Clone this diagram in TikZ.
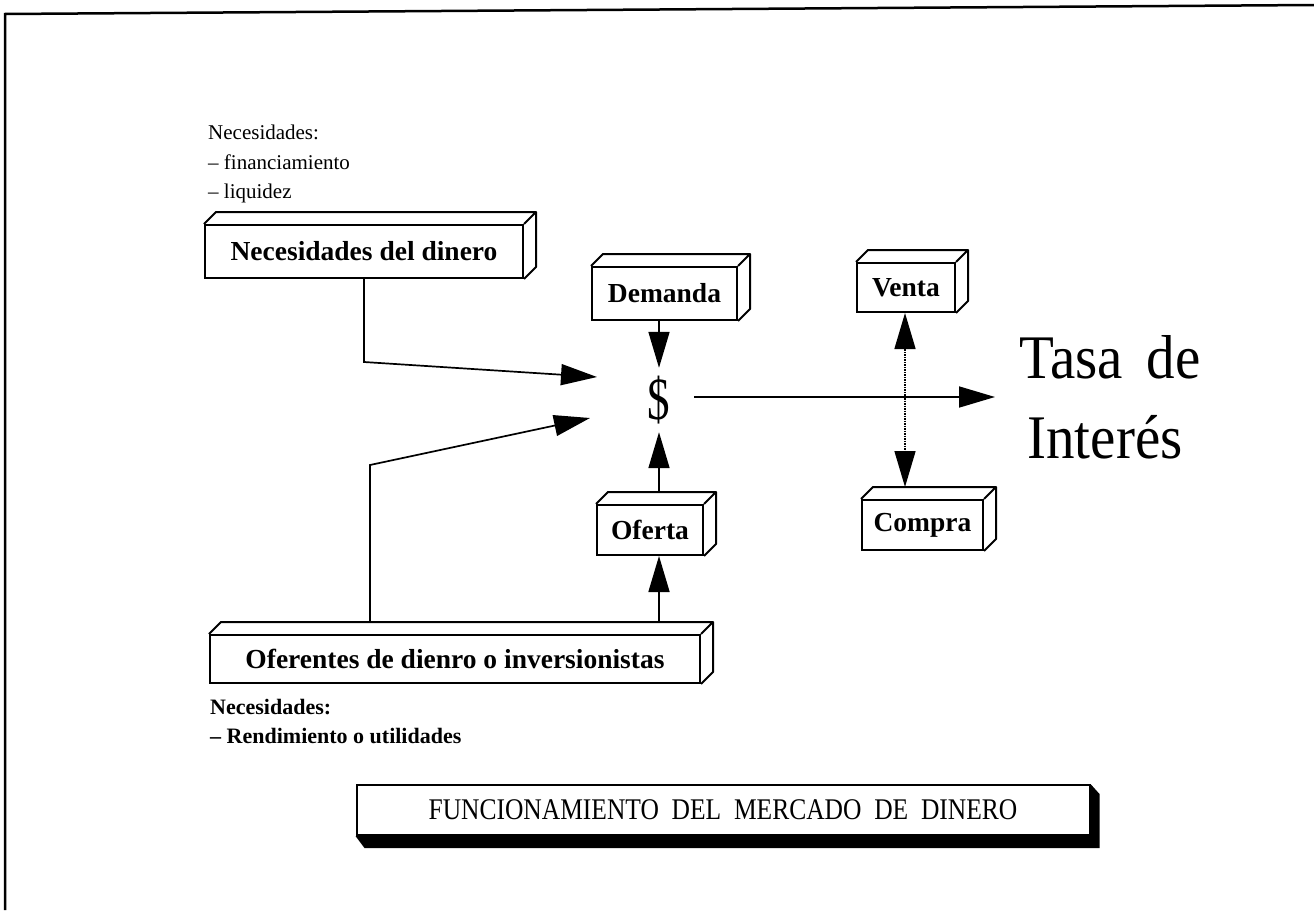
\documentclass[tikz,border=0pt]{standalone}
\usepackage{fontspec}
\setmainfont{Liberation Serif}
\usetikzlibrary{arrows.meta,calc}
\tikzset{
  x=1pt, y=-1pt,
  lbl/.style={draw, line width=2pt, fill=white, font=\fontsize{27.5}{30}\selectfont\bfseries, inner sep=0pt},
  conn/.style={line width=1.7pt},
  bigarrow/.style={conn, -{Triangle[length=36pt,width=21pt]}},
  dotarrow/.style={line width=1.5pt, densely dotted, -{Triangle[length=36pt,width=21pt]}},
  note/.style={anchor=west, font=\fontsize{21}{24}\selectfont, inner sep=0pt},
  bnote/.style={note, font=\fontsize{22}{24}\selectfont\bfseries},
}
\newcommand\threed[2][12]{%
  \draw[line width=2pt, line join=round] (#2.north west) -- ++(#1,-#1) -- ($(#2.north east)+(#1,-#1)$) -- ($(#2.south east)+(#1,-#1)$) -- (#2.south east)
    (#2.north east) -- ++(#1,-#1);}
\begin{document}
\begin{tikzpicture}
\useasboundingbox (0,0) rectangle (1314,910);
% frame
\draw[line width=2.5pt] (1314,5) -- (5,14) -- (5,910);
% upper notes
\node[note] (n1) at (208,132) {Necesidades:};
\node[note] (n2) at (208,162) {-- financiamiento};
\node[note] (n3) at (208,193) {-- liquidez};
% boxes
\node[lbl, minimum width=318pt, minimum height=53pt] (nec) at (364,251.5) {Necesidades del dinero};
\threed{nec}
\node[lbl, minimum width=145pt, minimum height=53pt] (dem) at (664.5,293.5) {Demanda};
\threed{dem}
\node[lbl, minimum width=106pt, minimum height=50pt] (ofr) at (650,530) {Oferta};
\threed{ofr}
\node[lbl, minimum width=490pt, minimum height=48pt] (ofe) at (455,659) {Oferentes de dienro o inversionistas};
\threed{ofe}
\node[lbl, minimum width=98pt, minimum height=49pt] (ven) at (906,287.5) {Venta};
\threed{ven}
\node[lbl, minimum width=121pt, minimum height=50pt] (com) at (922.5,525) {Compra};
\threed{com}
% dollar
\node[inner sep=0pt, minimum width=70pt, minimum height=64pt, font=\fontsize{60}{60}\selectfont] (dol) at (659,400) {\scalebox{0.75}[1]{\$}};
% Tasa de Interes
\node[inner sep=0pt, font=\fontsize{62}{62}\selectfont] (tasa) at (1110,357) {\scalebox{0.92}[1]{Tasa\, de}};
\node[inner sep=0pt, font=\fontsize{62}{62}\selectfont] (int) at (1105,437) {\scalebox{0.92}[1]{Interés}};
% coordinates
\coordinate (c1) at (367,362);
\coordinate (t1) at (597,377);
\coordinate (c2) at (370,465);
\coordinate (t2) at (590,418);
\coordinate (t3) at (995,397);
\coordinate (vc) at (905,398);
% connectors
\draw[bigarrow] (nec.south) -- (nec.south |- c1) -- (t1);
\draw[bigarrow] ($(ofe.north -| c2)+(0,-12)$) -- (c2) -- (t2);
\draw[bigarrow] (dem.south -| dol) -- (dol.north);
\draw[bigarrow] ($(ofr.north -| dol)+(0,-13)$) -- (dol.south);
\draw[bigarrow] ($(ofe.north -| dol)+(0,-12)$) -- (ofr.south -| dol);
\draw[bigarrow] (dol.east |- t3) -- (t3);
\draw[dotarrow] (vc) -- (ven.south -| vc);
\draw[dotarrow] (vc) -- ($(com.north -| vc)+(0,-12)$);
% lower notes
\node[bnote] (n4) at (210,707) {Necesidades:};
\node[bnote] (n5) at (210,736) {-- Rendimiento o utilidades};
% title box
\node[draw, line width=2pt, fill=white, inner sep=0pt, minimum width=733pt, minimum height=50pt, font=\fontsize{30}{30}\selectfont] (fun) at (723,810) {\scalebox{0.85}[1]{FUNCIONAMIENTO\ \ DEL\ \ MERCADO\ \ DE\ \ DINERO}};
\fill (fun.north east) -- ++(9,10) -- ($(fun.south east)+(9,12)$) -- ($(fun.south west)+(9,12)$) -- (fun.south west) -- (fun.south east) -- cycle;
\end{tikzpicture}
\end{document}
